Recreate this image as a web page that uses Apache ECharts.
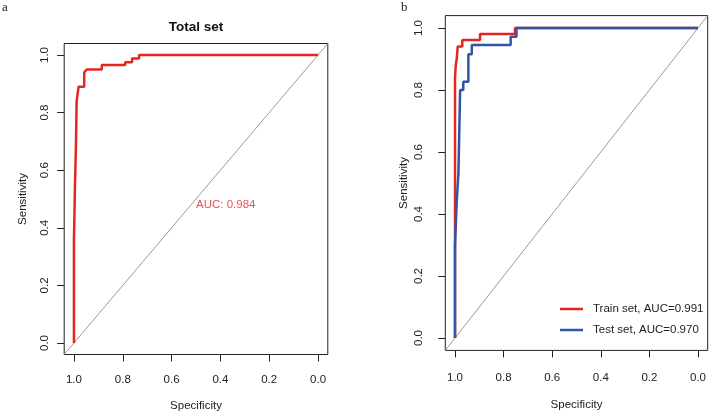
<!DOCTYPE html>
<html>
<head>
<meta charset="utf-8">
<script src="https://cdn.jsdelivr.net/npm/echarts@6/dist/echarts.min.js"></script>
<style>html,body{margin:0;padding:0;background:#fff;}#c{width:709px;height:414px;}</style>
</head>
<body>
<div id="c"></div>
<script>
// Tick labels
const tickValues = [0, 0.2, 0.4, 0.6, 0.8, 1.0];

// Panel a: Total set ROC (specificity, sensitivity)
const totalSpec = [1, 1, 0.996, 0.996, 0.992, 0.992, 0.989, 0.989, 0.981, 0.981, 0.958, 0.958, 0.947, 0.886, 0.886, 0.79, 0.79, 0.762, 0.762, 0.733, 0.733, 0];
const totalSens = [0, 0.36, 0.36, 0.54, 0.54, 0.68, 0.68, 0.84, 0.84, 0.89, 0.89, 0.94, 0.95, 0.95, 0.965, 0.965, 0.975, 0.975, 0.988, 0.988, 1.0, 1.0];
const totalAUC = 'AUC: 0.984';

// Panel b: Train set ROC
const trainSpec = [1, 1, 0.997, 0.997, 0.993, 0.993, 0.989, 0.989, 0.97, 0.97, 0.897, 0.897, 0.753, 0.753, 0];
const trainSens = [0, 0.84, 0.84, 0.88, 0.88, 0.90, 0.90, 0.94, 0.94, 0.961, 0.961, 0.981, 0.981, 1.0, 1.0];

// Panel b: Test set ROC
const testSpec = [1, 1, 0.993, 0.993, 0.986, 0.986, 0.979, 0.979, 0.966, 0.966, 0.945, 0.945, 0.931, 0.931, 0.771, 0.771, 0.747, 0.747, 0];
const testSens = [0, 0.30, 0.30, 0.44, 0.44, 0.53, 0.53, 0.80, 0.80, 0.827, 0.827, 0.915, 0.915, 0.945, 0.945, 0.972, 0.972, 1.0, 1.0];

const seriesNames = ['Train set, AUC=0.991', 'Test set, AUC=0.970'];
const diagonal = [[1.04, -0.04], [-0.04, 1.04]];

const RED = '#e32620';
const BLUE = '#2f55a6';
const FONT = 'Liberation Sans, Arial, sans-serif';

const pair = (xs, ys) => xs.map((x, i) => [x, ys[i]]);

function xAxisCfg(gi, margin, gap) {
  return {
    type: 'value', gridIndex: gi, inverse: true, min: -0.04, max: 1.04, position: 'bottom',
    name: 'Specificity', nameLocation: 'middle', nameGap: gap,
    nameTextStyle: { fontFamily: FONT, fontSize: 11.5, color: '#222' },
    axisLine: { show: false, onZero: false },
    splitLine: { show: false },
    axisTick: { show: true, inside: false, length: 7, customValues: tickValues, lineStyle: { color: '#222' } },
    axisLabel: { show: true, customValues: tickValues, margin: margin, fontFamily: FONT, fontSize: 11.5, color: '#222',
      formatter: v => v.toFixed(1) }
  };
}
function yAxisCfg(gi, margin, gap) {
  return {
    type: 'value', gridIndex: gi, min: -0.04, max: 1.04, position: 'left',
    name: 'Sensitivity', nameLocation: 'middle', nameGap: gap,
    nameTextStyle: { fontFamily: FONT, fontSize: 11.5, color: '#222' },
    axisLine: { show: false, onZero: false },
    splitLine: { show: false },
    axisTick: { show: true, inside: false, length: 7, customValues: tickValues, lineStyle: { color: '#222' } },
    axisLabel: { show: true, rotate: 90, customValues: tickValues, margin: margin, fontFamily: FONT, fontSize: 11.5, color: '#222',
      formatter: v => v.toFixed(1) }
  };
}

const chart = echarts.init(document.getElementById('c'), null, { renderer: 'canvas' });
chart.setOption({
  animation: false,
  backgroundColor: '#fff',
  title: [
    { text: 'Total set', left: 196, top: 20, textAlign: 'center', padding: 0,
      textStyle: { fontFamily: FONT, fontSize: 13.5, fontWeight: 'bold', color: '#111' } },
    { text: 'a', left: 2, top: 1, padding: 0,
      textStyle: { fontFamily: 'Liberation Serif, serif', fontSize: 13, fontWeight: 'normal', color: '#222' } },
    { text: 'b', left: 401, top: 1, padding: 0,
      textStyle: { fontFamily: 'Liberation Serif, serif', fontSize: 13, fontWeight: 'normal', color: '#222' } }
  ],
  grid: [
    { left: 64.2, top: 43.5, width: 263.6, height: 311, containLabel: false, outerBoundsMode: 'none',
      show: true, borderColor: '#222', borderWidth: 1, backgroundColor: 'transparent' },
    { left: 445.3, top: 15.6, width: 262.4, height: 334.8, containLabel: false, outerBoundsMode: 'none',
      show: true, borderColor: '#222', borderWidth: 1, backgroundColor: 'transparent' }
  ],
  xAxis: [xAxisCfg(0, 19, 45), xAxisCfg(1, 21, 48)],
  yAxis: [yAxisCfg(0, 13.5, 35.5), yAxisCfg(1, 20.5, 35)],
  legend: {
    data: seriesNames, orient: 'vertical', left: 560, top: 302, padding: 0, itemWidth: 23, itemHeight: 2.5, itemGap: 7,
    icon: 'rect',
    textStyle: { fontFamily: FONT, fontSize: 11.5, color: '#222', padding: [0, 0, 0, 5], lineHeight: 14 }
  },
  series: [
    { type: 'line', xAxisIndex: 0, yAxisIndex: 0, data: diagonal, symbol: 'none', silent: true,
      lineStyle: { color: '#9a9a9a', width: 1 } },
    { type: 'line', xAxisIndex: 0, yAxisIndex: 0, data: pair(totalSpec, totalSens), symbol: 'none',
      lineStyle: { color: RED, width: 2.5 } },
    { type: 'scatter', xAxisIndex: 0, yAxisIndex: 0, data: [[0.5, 0.5]], symbolSize: 0, silent: true,
      label: { show: true, formatter: totalAUC, position: [0, 0], align: 'left', verticalAlign: 'top',
        fontFamily: FONT, fontSize: 11.5, color: RED } },
    { type: 'line', xAxisIndex: 1, yAxisIndex: 1, data: diagonal, symbol: 'none', silent: true,
      lineStyle: { color: '#9a9a9a', width: 1 } },
    { type: 'line', name: seriesNames[0], xAxisIndex: 1, yAxisIndex: 1, data: pair(trainSpec, trainSens), symbol: 'none',
      color: RED, lineStyle: { color: RED, width: 2.5 } },
    { type: 'line', name: seriesNames[1], xAxisIndex: 1, yAxisIndex: 1, data: pair(testSpec, testSens), symbol: 'none',
      color: BLUE, lineStyle: { color: BLUE, width: 2.5 } }
  ]
});
</script>
</body>
</html>
